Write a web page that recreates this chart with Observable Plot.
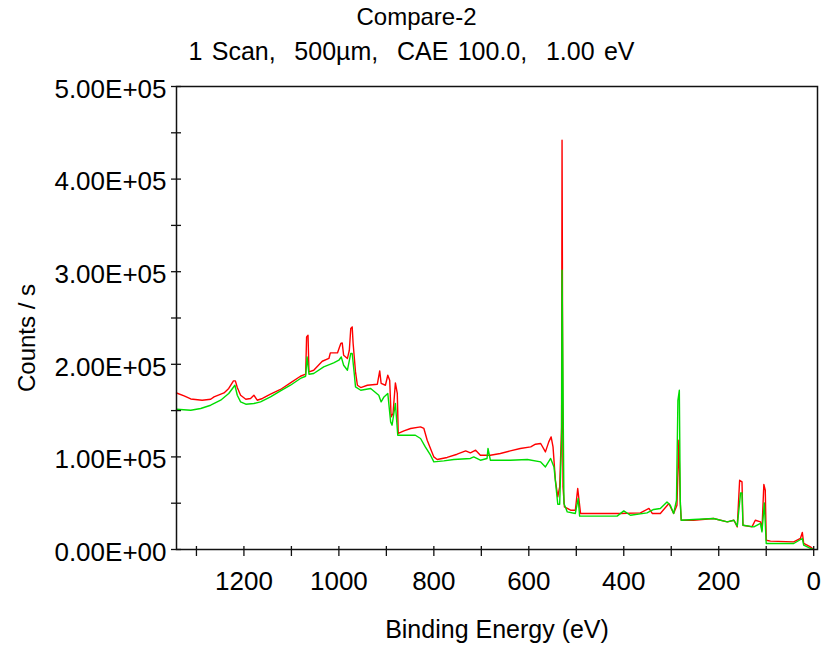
<!DOCTYPE html>
<html><head><meta charset="utf-8">
<script src="https://cdn.jsdelivr.net/npm/d3@7"></script>
<script src="https://cdn.jsdelivr.net/npm/@observablehq/plot@0.6"></script>
<style>
body{margin:0;background:#fff;font-family:"Liberation Sans",Arial,sans-serif;}
#wrap{position:relative;width:823px;height:645px;overflow:hidden;}
#chart{position:absolute;left:0;top:0;}
.t{position:absolute;left:0;width:823px;text-align:center;color:#000;line-height:1;white-space:pre;}
</style></head><body>
<div id="wrap">
<div id="chart"></div>
<div class="t" id="t1" style="top:5px;font-size:24px;padding-left:10px;box-sizing:border-box">Compare-2</div>
<div class="t" id="t2" style="top:39px;font-size:25px;word-spacing:2.4px">1 Scan,  500µm,  CAE 100.0,  1.00 eV</div>
</div>
<script>
// Binding energy (eV) and counts/s
const redEnergy = [1342,1326,1312,1288,1270,1263,1242,1232,1222,1218,1214,1207,1196,1186,1179,1172,1161,1144,1123,1102,1081,1070,1068,1065,1063,1053,1035,1021,1018,1003,996,993,990,982,978,975,972,970,965,961,954,940,919,914,911,902,897,893,890,886,881,877,875,863,849,828,821,814,800,793,772,751,733,723,712,702,681,660,639,618,596,586,575,565,558,553,549,544,539,535,531,530,528,525,512,502,497,491,463,407,365,347,340,323,305,295,288,284,281,279,253,211,182,168,161,156,151,149,130,123,112,109,105,102,100,91,42,28,24,21,7,0];
const redCounts = [169000,165900,162600,161200,162300,164800,169100,173900,182100,182100,174900,166600,162300,163100,166600,161200,163100,167700,172800,179900,187100,189300,229600,231400,191800,193600,203300,206300,212300,212300,222500,223100,209800,206300,215200,238700,240400,222500,191800,177400,174900,177400,178500,192900,179300,177400,188200,182800,143200,146900,179900,168500,125300,128100,130700,132400,130700,118000,100000,97200,99400,102900,106500,104300,107200,101800,101800,103700,106500,109100,110800,113700,114500,105400,116200,121600,110800,74800,56800,67600,132400,442000,67600,46000,42400,42400,65900,38900,38900,38900,39500,44300,38900,38900,49700,38900,47800,118000,49700,31600,31600,33500,29800,31600,24400,74800,73000,26200,24400,31600,29800,20800,70200,64000,10000,9000,8200,11900,18400,6500,2800,0];
const greenEnergy = [1342,1312,1291,1270,1249,1232,1219,1214,1207,1196,1179,1165,1144,1123,1102,1081,1070,1067,1063,1053,1032,1011,1000,995,990,982,975,972,968,965,954,933,916,911,905,897,891,888,881,876,863,839,828,818,807,800,779,758,723,716,702,688,686,681,639,603,575,565,554,547,542,539,535,531,530,526,519,502,496,493,463,414,400,386,351,337,323,309,302,295,289,286,283,281,279,253,211,182,168,161,154,151,149,126,112,109,104,100,77,42,24,21,7,0];
const greenCounts = [151500,150400,152300,155800,161200,168500,177400,166600,159400,156900,157700,159400,164800,171300,177400,184700,187100,208000,189300,190100,197200,201500,204400,208000,199000,193600,211700,211700,191800,175600,172000,173900,166600,159400,164800,168500,137800,134200,157700,123400,123400,123400,119900,110800,101800,94600,95700,97200,98300,100000,96400,98300,109100,96400,96400,97200,94600,89200,98300,89200,64000,48900,48900,118000,301600,49700,40600,38900,55100,36000,36000,36000,41700,37000,39500,43200,44300,51400,47800,38900,53200,161200,172000,53200,31600,32400,33500,29800,31600,25200,61100,61100,26200,24400,28100,19000,50300,6500,6500,6500,11900,4600,1100,0];

const xTicks = [1300,1200,1100,1000,900,800,700,600,500,400,300,200,100,0];
const xTickLabels = [1200,1000,800,600,400,200,0];
const yTicks = [0,50000,100000,150000,200000,250000,300000,350000,400000,450000,500000];
const yTickLabels = [0,100000,200000,300000,400000,500000];
const xTitle = "Binding Energy (eV)";
const yTitle = "Counts / s";

const red = redEnergy.map((e, i) => ({ev: e, c: redCounts[i]}));
const green = greenEnergy.map((e, i) => ({ev: e, c: greenCounts[i]}));

const W = 823, H = 645, mL = 176, mR = 6, mT = 86, mB = 96;
const pw = W - mL - mR, ph = H - mT - mB;
const fmt = d => d === 0 ? "0.00E+00" : (d / 1e5).toFixed(2) + "E+05";

const chart = Plot.plot({
  width: W, height: H,
  marginLeft: mL, marginRight: mR, marginTop: mT, marginBottom: mB,
  style: {fontFamily: '"Liberation Sans", Arial, sans-serif', fontSize: "26px", color: "#000", background: "#fff"},
  x: {domain: [1342, -8], axis: null},
  y: {domain: [0, 500000], axis: null},
  marks: [
    Plot.line(red, {x: "ev", y: "c", stroke: "#ff0000", strokeWidth: 1.4}),
    Plot.line(green, {x: "ev", y: "c", stroke: "#00dd00", strokeWidth: 1.4}),
    Plot.frame({stroke: "#111", strokeWidth: 1.5}),
    Plot.tickY(yTicks, {y: d => d, insetLeft: -5, insetRight: pw - 5, stroke: "#111", strokeWidth: 1.3}),
    Plot.tickX(xTicks, {x: d => d, insetTop: ph - 3, insetBottom: -7, stroke: "#111", strokeWidth: 1.3}),
    Plot.text(yTickLabels, {y: d => d, text: fmt, frameAnchor: "left", textAnchor: "end", dx: -10, dy: 3, fill: "#000"}),
    Plot.text(xTickLabels, {x: d => d, text: d => String(d), frameAnchor: "bottom", lineAnchor: "middle", dy: 32, fill: "#000"}),
    Plot.text([yTitle], {text: d => d, frameAnchor: "left", textAnchor: "middle", rotate: -90, dx: -149, dy: 20, fontSize: 24, fill: "#000"}),
    Plot.text([xTitle], {text: d => d, frameAnchor: "bottom", lineAnchor: "middle", dy: 80, fontSize: 25, fill: "#000"})
  ]
});
document.getElementById("chart").appendChild(chart);
</script>
</body></html>
